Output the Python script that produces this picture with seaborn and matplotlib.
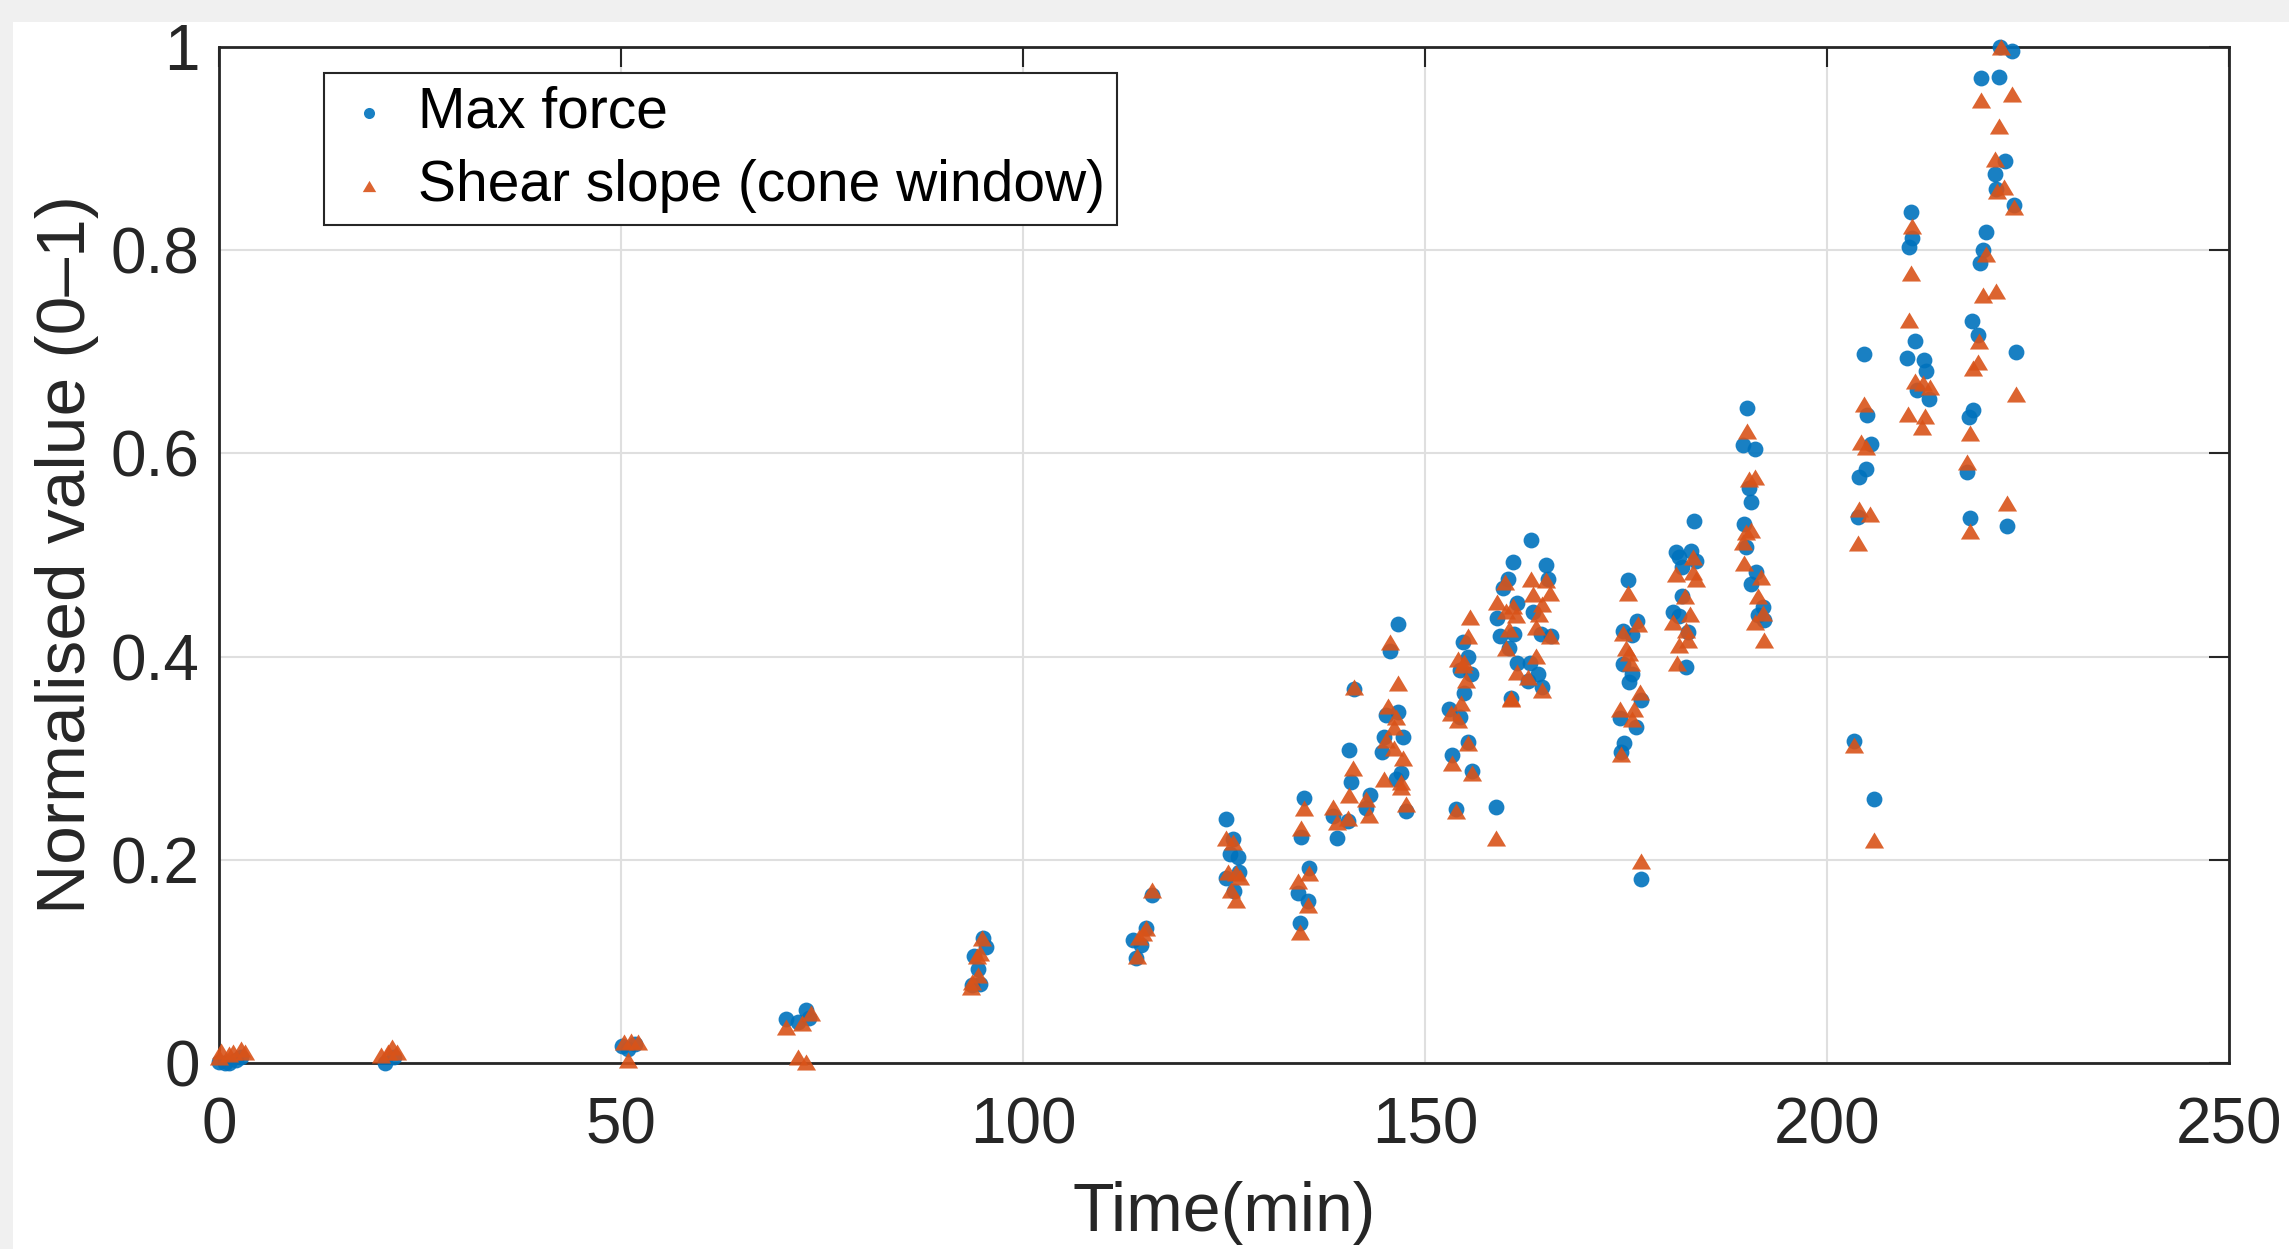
import matplotlib
matplotlib.use("Agg")
import matplotlib.pyplot as plt
from matplotlib.patches import Rectangle
import seaborn as sns
import pandas as pd

# ========== Data ==========

time_force = [
    0.0, 0.7, 1.3, 2.1, 2.7,
    20.7, 21.8,
    50.1, 50.9, 51.8,
    70.5, 72.0, 73.0, 73.4,
    93.7, 94.6, 94.4, 93.9, 95.4, 95.0,
    114.1, 114.7, 113.7, 115.3, 116.0,
    125.2, 126.1, 125.7, 126.8, 126.9, 125.2, 126.3,
    135.0, 134.6, 135.6, 134.2, 135.4, 134.4,
    139.1, 138.5, 140.4, 140.6, 140.8, 141.2, 142.7, 143.1, 145.7, 146.7,
    145.1, 146.6, 144.9, 147.3, 144.7, 147.0, 146.4, 147.6,
    153.8, 153.4, 155.4, 155.8, 153.0, 154.3, 154.9, 154.3, 155.7, 155.3, 154.7,
    158.8, 160.7, 163.2, 160.9, 165.1, 160.3, 165.3, 159.7, 161.5, 163.4,
    164.4, 161.1, 160.5, 161.5, 164.0, 163.0, 162.8, 164.6, 165.7, 159.0, 159.3,
    175.2, 174.6, 176.4, 175.8, 174.6, 175.8, 175.4, 176.9, 174.2, 176.2, 174.8, 174.4, 176.9,
    183.5, 181.2, 181.6, 183.1, 183.7, 182.0, 182.0, 180.8, 181.6, 182.7, 182.5,
    190.1, 189.5, 191.0, 190.3, 190.5, 189.7, 189.9, 191.2, 190.5, 192.0, 192.2, 191.4,
    204.6, 205.0, 205.5, 204.9, 204.0, 203.8, 203.4, 205.8,
    210.4, 210.6, 210.2, 210.9, 210.0, 212.1, 212.3, 211.2, 212.7,
    221.5, 223.0, 219.2, 221.4, 222.1, 220.9, 221.0, 223.3, 219.8, 219.4,
    219.0, 218.0, 218.8, 223.5, 218.2, 217.6, 217.4, 217.8, 222.4,
]
max_force = [
    0.001, 0.0, 0.0, 0.003, 0.006,
    0.0, 0.006,
    0.017, 0.014, 0.019,
    0.043, 0.040, 0.052, 0.044,
    0.077, 0.078, 0.093, 0.105, 0.114, 0.123,
    0.103, 0.116, 0.121, 0.133, 0.165,
    0.240, 0.220, 0.206, 0.203, 0.188, 0.182, 0.169,
    0.261, 0.222, 0.192, 0.167, 0.159, 0.138,
    0.221, 0.243, 0.238, 0.308, 0.277, 0.368, 0.251, 0.264, 0.406, 0.432,
    0.343, 0.345, 0.321, 0.321, 0.306, 0.285, 0.280, 0.248,
    0.250, 0.303, 0.316, 0.287, 0.348, 0.341, 0.364, 0.387, 0.383, 0.400, 0.414,
    0.252, 0.359, 0.515, 0.493, 0.490, 0.476, 0.476, 0.468, 0.453, 0.444,
    0.422, 0.422, 0.408, 0.394, 0.383, 0.394, 0.376, 0.370, 0.420, 0.438, 0.420,
    0.475, 0.425, 0.435, 0.421, 0.393, 0.383, 0.375, 0.357, 0.340, 0.331, 0.315, 0.306, 0.181,
    0.533, 0.503, 0.498, 0.504, 0.494, 0.488, 0.460, 0.444, 0.440, 0.424, 0.390,
    0.645, 0.608, 0.604, 0.566, 0.552, 0.531, 0.508, 0.483, 0.471, 0.449, 0.436, 0.441,
    0.698, 0.638, 0.609, 0.585, 0.577, 0.537, 0.317, 0.260,
    0.838, 0.812, 0.803, 0.711, 0.694, 0.692, 0.681, 0.662, 0.654,
    1.000, 0.996, 0.969, 0.970, 0.888, 0.875, 0.860, 0.844, 0.818, 0.800,
    0.787, 0.730, 0.717, 0.700, 0.643, 0.636, 0.582, 0.536, 0.529,
]

time_shear = [
    0.0, 0.3, 1.3, 1.8, 2.7, 3.2,
    20.1, 21.0, 21.5, 22.1,
    50.4, 51.2, 52.1, 50.9,
    70.5, 72.5, 73.6, 72.0, 73.0,
    93.6, 94.4, 94.3, 94.9, 94.7, 93.5,
    114.2, 114.4, 115.3, 114.9, 116.0,
    125.2, 126.1, 125.5, 126.5, 127.0, 125.9, 126.5,
    135.0, 134.6, 135.6, 134.2, 135.4, 134.4,
    138.5, 139.0, 140.4, 140.6, 141.0, 141.2, 142.7, 143.0, 144.9, 145.7,
    146.7, 145.4, 146.4, 146.2, 145.1, 146.2, 147.3, 147.0, 147.0, 147.6,
    153.8, 153.4, 155.4, 155.8, 153.2, 154.1, 154.5, 154.1, 154.9, 155.1, 155.3, 155.6, 154.7,
    158.8, 160.7, 159.9, 163.2, 165.1, 163.4, 165.5, 160.9, 160.1, 164.6, 164.2,
    163.8, 160.5, 165.5, 160.1, 163.8, 161.5, 162.8, 164.6, 160.7, 159.0, 161.3,
    175.2, 174.6, 176.5, 175.0, 175.4, 175.6, 176.7, 174.2, 176.0, 175.8, 174.4, 176.9,
    183.3, 181.2, 183.3, 183.7, 182.3, 182.9, 180.8, 182.5, 181.6, 182.7, 181.4,
    190.1, 190.3, 191.0, 189.9, 190.5, 189.5, 189.7, 191.8, 191.4, 192.0, 191.0, 192.2,
    204.6, 204.2, 204.9, 204.0, 205.4, 203.8, 203.4, 205.8,
    210.6, 210.4, 210.2, 210.9, 212.0, 212.8, 210.1, 212.2, 211.8,
    221.6, 219.2, 223.0, 221.4, 220.9, 222.0, 221.1, 223.3, 219.8, 219.4,
    221.0, 218.9, 218.8, 218.2, 223.5, 217.8, 217.4, 222.4, 217.8,
]
shear_slope = [
    0.006, 0.012, 0.009, 0.011, 0.014, 0.011,
    0.008, 0.011, 0.016, 0.011,
    0.021, 0.022, 0.021, 0.003,
    0.035, 0.039, 0.049, 0.006, 0.001,
    0.080, 0.087, 0.105, 0.123, 0.108, 0.075,
    0.105, 0.124, 0.133, 0.128, 0.170,
    0.221, 0.218, 0.188, 0.187, 0.183, 0.170, 0.160,
    0.251, 0.231, 0.187, 0.179, 0.156, 0.129,
    0.252, 0.237, 0.241, 0.264, 0.290, 0.370, 0.260, 0.244, 0.280, 0.414,
    0.374, 0.351, 0.341, 0.331, 0.318, 0.310, 0.300, 0.277, 0.272, 0.255,
    0.248, 0.295, 0.315, 0.285, 0.344, 0.338, 0.354, 0.398, 0.395, 0.377, 0.420, 0.439, 0.392,
    0.221, 0.359, 0.473, 0.476, 0.475, 0.462, 0.463, 0.450, 0.445, 0.452, 0.442,
    0.429, 0.427, 0.420, 0.408, 0.401, 0.385, 0.380, 0.367, 0.358, 0.454, 0.441,
    0.463, 0.423, 0.432, 0.408, 0.404, 0.394, 0.365, 0.348, 0.348, 0.339, 0.304, 0.199,
    0.498, 0.481, 0.483, 0.476, 0.460, 0.442, 0.434, 0.426, 0.411, 0.416, 0.394,
    0.622, 0.575, 0.577, 0.523, 0.525, 0.513, 0.492, 0.478, 0.460, 0.443, 0.434, 0.416,
    0.649, 0.611, 0.606, 0.545, 0.540, 0.512, 0.313, 0.219,
    0.824, 0.778, 0.731, 0.671, 0.669, 0.665, 0.639, 0.637, 0.626,
    1.000, 0.948, 0.954, 0.922, 0.890, 0.862, 0.858, 0.843, 0.796, 0.756,
    0.760, 0.711, 0.690, 0.684, 0.658, 0.620, 0.592, 0.551, 0.524,
]

series_names = ['Max force', 'Shear slope (cone window)']
x_ticks = [0, 50, 100, 150, 200, 250]
y_ticks = [0, 0.2, 0.4, 0.6, 0.8, 1]
y_tick_labels = ['0', '0.2', '0.4', '0.6', '0.8', '1']

blue = '#0072BD'
orange = '#D95319'
dark = '#262626'

# ========== Plot ==========

df_force = pd.DataFrame({'time': time_force, 'value': max_force})
df_shear = pd.DataFrame({'time': time_shear, 'value': shear_slope})

sns.set_theme(style='white')
plt.rcParams['font.family'] = ['Liberation Sans', 'DejaVu Sans']

W, H = 2289, 1249
fig = plt.figure(figsize=(W / 100, H / 100), dpi=100, facecolor='#f0f0f0')
fig.patches.append(Rectangle((13 / W, 0), 1, 1 - 22 / H, transform=fig.transFigure,
                             facecolor='white', edgecolor='none', zorder=-10))
ax = fig.add_axes([219 / W, 1 - 1063 / H, 2010 / W, 1016 / H])
ax.set_facecolor('white')

tri = [(-1, -0.84), (1, -0.84), (0, 0.84)]
sns.scatterplot(data=df_force, x='time', y='value', ax=ax, marker='o', s=130,
                color=blue, alpha=0.9, linewidth=0, label=series_names[0],
                clip_on=False, zorder=3)
sns.scatterplot(data=df_shear, x='time', y='value', ax=ax, marker=tri, s=190,
                color=orange, alpha=0.9, linewidth=0, label=series_names[1],
                clip_on=False, zorder=4)

ax.set_xlim(0, 250)
ax.set_ylim(0, 1)
ax.set_xticks(x_ticks)
ax.set_xticklabels([str(t) for t in x_ticks])
ax.set_yticks(y_ticks)
ax.set_yticklabels(y_tick_labels)

ax.grid(True, color='#dfdfdf', linewidth=1.5)
ax.set_axisbelow(True)
for sp in ax.spines.values():
    sp.set_color(dark)
    sp.set_linewidth(2)

ax.tick_params(direction='in', length=14.5, width=1.5, top=True, right=True,
               colors=dark, labelsize=46)
ax.tick_params(axis='x', pad=24)
ax.tick_params(axis='y', pad=14)

ax.set_xlabel('Time(min)', fontsize=49, color=dark, labelpad=18)
ax.set_ylabel('Normalised value (0\u20131)', fontsize=50, color=dark, labelpad=8)

leg = ax.legend(loc='upper left', bbox_to_anchor=(0.0522, 0.974), borderaxespad=0,
                fontsize=41, markerscale=0.7, frameon=True, fancybox=False,
                edgecolor=dark, facecolor='white', framealpha=1,
                handlelength=1.16, handletextpad=0.27, borderpad=0.22,
                labelspacing=0.33)
leg.get_frame().set_linewidth(1.5)
for txt in leg.get_texts():
    txt.set_color('black')

fig.savefig('out.png', dpi=100, facecolor=fig.get_facecolor())
